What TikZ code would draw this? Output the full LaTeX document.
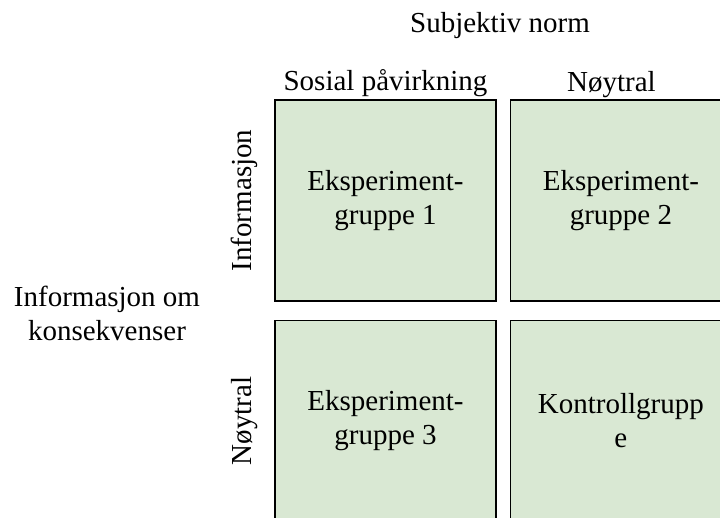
\documentclass[tikz,border=0pt]{standalone}
\usepackage{fontspec}
\setmainfont{Liberation Serif}
\usepackage{xcolor}
\usepackage{tikz}
\usetikzlibrary{positioning}
\definecolor{cellgreen}{RGB}{217,232,211}
\tikzstyle{every node}+=[font=\fontsize{29}{34}\selectfont]
\tikzstyle{cell}+=[draw=black,line width=1.4pt,fill=cellgreen,minimum width=221pt,minimum height=201pt,align=center,inner sep=0pt]
\tikzstyle{head}+=[inner sep=0pt,anchor=base]
\tikzstyle{side}+=[inner sep=0pt,rotate=90,anchor=center]

\begin{document}
\begin{tikzpicture}[x=1pt,y=1pt]
    \useasboundingbox (0,0) rectangle (720,517);
    % the four groups
    \node[cell] (g1) at (385.5,316.5) {Eksperiment-\\gruppe 1};
    \node[cell,right=13pt of g1] (g2) {Eksperiment-\\gruppe 2};
    \node[cell,below=18pt of g1] (g3) {Eksperiment-\\gruppe 3};
    \node[cell,right=13pt of g3] (g4) {Kontrollgrupp\\e};
    % headings
    \node[head] (norm) at (500,484) {Subjektiv norm};
    \node[head] (sosial) at ([yshift=9pt]g1.north) {Sosial påvirkning};
    \node[head] (noytralA) at ([xshift=-9.5pt,yshift=8pt]g2.north) {Nøytral};
    \node[side] (info) at ([xshift=-30pt]g1.west) {Informasjon};
    \node[side] (noytralB) at ([xshift=-30pt]g3.west) {Nøytral};
    \node[align=center,inner sep=0pt] (kons) at (107,204) {Informasjon om\\konsekvenser};
\end{tikzpicture}
\end{document}
